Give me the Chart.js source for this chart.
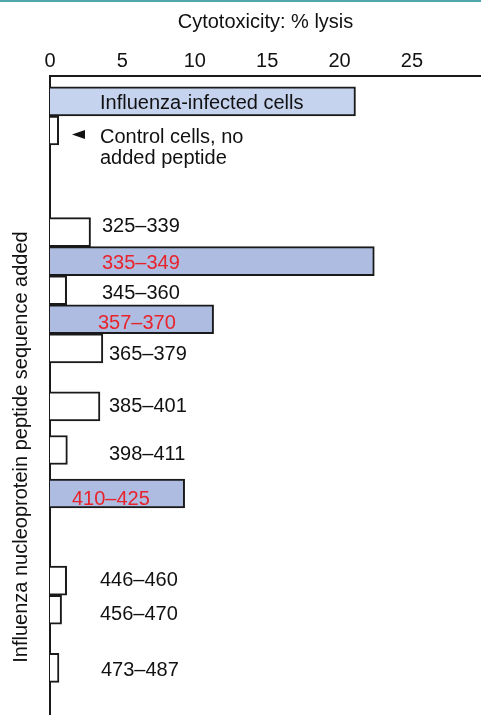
<!DOCTYPE html>
<html>
<head>
<meta charset="utf-8">
<script src="https://cdn.jsdelivr.net/npm/chart.js@4/dist/chart.umd.min.js"></script>
<style>
  body { margin: 0; background: #fff; }
  #wrap { position: relative; width: 481px; height: 715px; }
</style>
</head>
<body>
<div id="wrap"><canvas id="myChart"></canvas></div>
<script>
// data
const categories = ['Influenza-infected cells', 'Control cells, no\nadded peptide',
  '325–339', '335–349', '345–360', '357–370', '365–379',
  '385–401', '398–411', '410–425', '446–460', '456–470', '473–487'];
const lysis = [21.1, 0.6, 2.8, 22.4, 1.15, 11.3, 3.65, 3.45, 1.2, 9.3, 1.15, 0.8, 0.62];
const positive = [true, false, false, true, false, true, false, false, false, true, false, false, false];
const xTicks = [0, 5, 10, 15, 20, 25];

// row in the 88-row grid each bar sits in
const nRows = 88;
const rowIndex = [3, 7, 21, 25, 29, 33, 37, 45, 51, 57, 69, 73, 81];

// label placement (px from plot left, px from bar centre to baseline)
const labelX = [50, 50, 52, 52, 52, 48, 59, 59, 59, 22, 50, 50, 51];
const labelDy = [8, 12.5, 0, 8, 9, 10, 12, 6, 10, 11, 5, 10, 8];

const FONT = 'Liberation Sans, Arial, Helvetica, sans-serif';
const FS = 20;
Chart.defaults.font.family = FONT;
Chart.defaults.font.size = FS;
Chart.defaults.color = '#111';

const rowLabels = Array(nRows).fill('');
const values = Array(nRows).fill(null);
const barOf = {};
rowIndex.forEach(function (r, i) {
  rowLabels[r] = categories[i];
  values[r] = lysis[i];
  barOf[r] = i;
});

function fillFor(ctx) {
  const i = barOf[ctx.dataIndex];
  if (i === undefined) return '#fff';
  if (i === 0) return '#c6d3ee';
  return positive[i] ? '#aebce1' : '#ffffff';
}

const labelPlugin = {
  id: 'labels',
  beforeDraw(chart) {
    const c = chart.ctx;
    c.save();
    c.fillStyle = '#4ea8ab';
    c.fillRect(0, 0, chart.width, 2);
    c.restore();
  },
  afterDatasetsDraw(chart) {
    const c = chart.ctx;
    const meta = chart.getDatasetMeta(0);
    const left = chart.chartArea.left;
    c.save();
    c.font = FS + 'px ' + FONT;
    c.textBaseline = 'alphabetic';
    c.textAlign = 'left';
    categories.forEach(function (txt, i) {
      const bar = meta.data[rowIndex[i]];
      const x = left + labelX[i];
      const y = bar.y + labelDy[i];
      c.fillStyle = (positive[i] && i > 0) ? '#e8232b' : '#111';
      txt.split('\n').forEach(function (line, k) {
        c.fillText(line, x, y + k * 21);
      });
      if (i === 1) {
        // pointer arrow in front of the control label
        c.beginPath();
        c.moveTo(x - 28, y - 8.5);
        c.lineTo(x - 15, y - 13);
        c.lineTo(x - 15, y - 4);
        c.closePath();
        c.fill();
      }
    });
    // y axis title
    c.fillStyle = '#111';
    c.translate(26.5, 447);
    c.rotate(-Math.PI / 2);
    c.textAlign = 'center';
    c.fillText('Influenza nucleoprotein peptide sequence added', 0, 0);
    c.restore();
  }
};

const data = {
  labels: rowLabels,
  datasets: [{
    data: values,
    backgroundColor: fillFor,
    borderColor: '#1a1a1a',
    borderWidth: 2,
    borderSkipped: 'start',
    barThickness: 29
  }]
};

const config = {
  type: 'bar',
  data: data,
  options: {
    indexAxis: 'y',
    responsive: true,
    maintainAspectRatio: false,
    animation: false,
    layout: { padding: 0 },
    plugins: { legend: { display: false }, tooltip: { enabled: false } },
    scales: {
      x: {
        position: 'top',
        min: 0,
        max: 29.77,
        afterFit(scale) { scale.height = 76; },
        afterBuildTicks(scale) { scale.ticks = xTicks.map(v => ({ value: v })); },
        grid: { display: false },
        border: { display: true, color: '#1a1a1a', width: 2 },
        ticks: { padding: -5, color: '#111', font: { size: FS } },
        title: {
          display: true,
          text: 'Cytotoxicity: % lysis',
          color: '#111',
          font: { size: FS },
          padding: { top: 10, bottom: 0 }
        }
      },
      y: {
        afterFit(scale) { scale.width = 50; },
        grid: { display: false },
        border: { display: true, color: '#1a1a1a', width: 2 },
        ticks: { display: false }
      }
    }
  },
  plugins: [labelPlugin]
};

let myChart = new Chart(document.getElementById('myChart').getContext('2d'), config);
</script>
</body>
</html>
